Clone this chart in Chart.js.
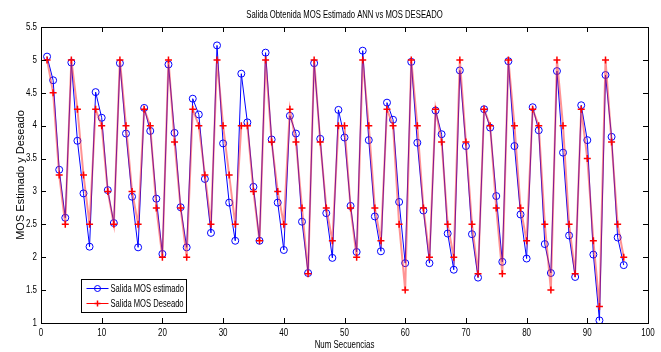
<!DOCTYPE html>
<html>
<head>
<meta charset="utf-8">
<script src="https://cdn.jsdelivr.net/npm/chart.js@4.4.1/dist/chart.umd.min.js"></script>
<style>
html,body{margin:0;padding:0;background:#fff;}
#wrap{width:661px;height:352px;position:relative;}
</style>
</head>
<body>
<div id="wrap"><canvas id="c" width="661" height="352"></canvas></div>
<script>
const chartTitle = "Salida Obtenida MOS Estimado ANN vs MOS DESEADO";
const xAxisTitle = "Num Secuencias";
const yAxisTitle = "MOS Estimado y Deseado";
const seriesNames = ["Salida MOS estimado", "Salida MOS Deseado"];
const xTicks = [0,10,20,30,40,50,60,70,80,90,100];
const xTickLabels = ["0","10","20","30","40","50","60","70","80","90","100"];
const yTicks = [1,1.5,2,2.5,3,3.5,4,4.5,5,5.5];
const yTickLabels = ["1","1.5","2","2.5","3","3.5","4","4.5","5","5.5"];

const secuencias = [1,2,3,4,5,6,7,8,9,10,11,12,13,14,15,16,17,18,19,20,21,22,23,24,25,26,27,28,29,30,31,32,33,34,35,36,37,38,39,40,41,42,43,44,45,46,47,48,49,50,51,52,53,54,55,56,57,58,59,60,61,62,63,64,65,66,67,68,69,70,71,72,73,74,75,76,77,78,79,80,81,82,83,84,85,86,87,88,89,90,91,92,93,94,95,96];

const mosEstimado = [5.05,4.69,3.33,2.60,4.96,3.77,2.97,2.16,4.51,4.12,3.02,2.52,4.95,3.88,2.92,2.15,4.27,3.92,2.89,2.05,4.93,3.89,2.76,2.15,4.41,4.17,3.19,2.37,5.22,3.73,2.83,2.25,4.79,4.05,3.07,2.25,5.11,3.79,2.83,2.11,4.15,3.88,2.54,1.76,4.95,3.80,2.67,1.99,4.24,3.82,2.78,2.08,5.14,3.78,2.62,2.09,4.35,4.09,2.84,1.91,4.97,3.74,2.71,1.91,4.23,3.87,2.36,1.81,4.84,3.69,2.35,1.69,4.25,3.97,2.93,1.93,4.98,3.69,2.65,1.98,4.28,3.93,2.20,1.76,4.83,3.59,2.33,1.70,4.31,3.78,2.04,1.04,4.77,3.83,2.30,1.88];

const mosDeseado = [5.0,4.5,3.25,2.5,5.0,4.25,3.25,2.5,4.25,4.0,3.0,2.5,5.0,4.0,3.0,2.5,4.25,4.0,2.75,2.0,5.0,3.75,2.75,2.0,4.25,4.0,3.25,2.5,5.0,4.0,3.25,2.5,4.0,4.0,3.0,2.25,5.0,3.75,3.0,2.5,4.25,3.75,2.75,1.75,5.0,3.75,2.75,2.25,4.0,4.0,2.75,2.0,5.0,4.0,2.75,2.25,4.25,4.0,2.5,1.5,5.0,4.0,2.75,2.0,4.25,3.75,2.5,2.0,5.0,3.75,2.5,1.75,4.25,4.0,2.75,1.75,5.0,4.0,2.75,2.25,4.25,4.0,2.5,1.5,5.0,4.0,2.5,1.75,4.25,3.5,2.25,1.25,5.0,3.75,2.5,2.0];

const FONT = "'Liberation Sans', Arial, sans-serif";
const BLUE = "#0000ff";
const RED = "#ff0000";

function narrowText(ctx, txt, x, y, align, size, sx) {
  ctx.save();
  ctx.translate(x, y);
  ctx.scale(sx, 1);
  ctx.font = size + "px " + FONT;
  ctx.textAlign = align;
  ctx.textBaseline = 'middle';
  ctx.fillStyle = '#000';
  ctx.fillText(txt, 0, 0);
  ctx.restore();
}

const framePlugin = {
  id: 'frame',
  afterDraw(chart) {
    const ctx = chart.ctx, a = chart.chartArea;
    const xs = chart.scales.x, ys = chart.scales.y;
    ctx.save();
    ctx.strokeStyle = '#000';
    ctx.lineWidth = 1;
    ctx.strokeRect(Math.round(a.left)+0.5, Math.round(a.top)+0.5, Math.round(a.right-a.left), Math.round(a.bottom-a.top));
    ctx.beginPath();
    const tl = 5;
    xTicks.forEach(v => {
      const p = Math.round(xs.getPixelForValue(v)) + 0.5;
      ctx.moveTo(p, a.bottom); ctx.lineTo(p, a.bottom - tl);
      ctx.moveTo(p, a.top); ctx.lineTo(p, a.top + tl);
    });
    yTicks.forEach(v => {
      const p = Math.round(ys.getPixelForValue(v)) + 0.5;
      ctx.moveTo(a.left, p); ctx.lineTo(a.left + tl, p);
      ctx.moveTo(a.right, p); ctx.lineTo(a.right - tl, p);
    });
    ctx.stroke();

    // tick labels
    xTicks.forEach((v, i) => {
      narrowText(ctx, xTickLabels[i], xs.getPixelForValue(v), a.bottom + 10, 'center', 10, 0.8);
    });
    yTicks.forEach((v, i) => {
      narrowText(ctx, yTickLabels[i], a.left - 4, ys.getPixelForValue(v), 'right', 10, 0.8);
    });

    // title
    narrowText(ctx, chartTitle, (a.left + a.right) / 2, a.top - 12, 'center', 10, 0.77);
    // x axis title
    narrowText(ctx, xAxisTitle, (a.left + a.right) / 2, a.bottom + 22, 'center', 10, 0.79);
    // y axis title
    ctx.save();
    ctx.translate(21, (a.top + a.bottom) / 2);
    ctx.rotate(-Math.PI / 2);
    narrowText(ctx, yAxisTitle, 0, 0, 'center', 11, 1.0);
    ctx.restore();

    // legend
    const bx = Math.round(a.left) + 40 + 0.5, by = Math.round(a.bottom) - 44 + 0.5, bw = 105, bh = 33;
    ctx.fillStyle = '#fff';
    ctx.fillRect(bx, by, bw, bh);
    ctx.strokeStyle = '#000';
    ctx.lineWidth = 1;
    ctx.strokeRect(bx, by, bw, bh);
    const rows = [by + 9, by + 24];
    const colors = [BLUE, RED];
    rows.forEach((ry, i) => {
      ctx.strokeStyle = colors[i];
      ctx.lineWidth = 1;
      ctx.beginPath();
      ctx.moveTo(bx + 5, ry); ctx.lineTo(bx + 27, ry);
      ctx.stroke();
      const mx = bx + 16;
      ctx.beginPath();
      if (i === 0) {
        ctx.arc(mx, ry, 3, 0, Math.PI * 2);
      } else {
        ctx.lineWidth = 1.5;
        ctx.moveTo(mx - 3, ry); ctx.lineTo(mx + 3, ry);
        ctx.moveTo(mx, ry - 3); ctx.lineTo(mx, ry + 3);
      }
      ctx.stroke();
      narrowText(ctx, seriesNames[i], bx + 29, ry + 0.5, 'left', 10, 0.76);
    });
    ctx.restore();
  }
};

new Chart(document.getElementById('c'), {
  type: 'line',
  data: {
    datasets: [
      {
        label: seriesNames[0],
        data: mosEstimado.map((v, i) => ({x: secuencias[i], y: v})),
        borderColor: BLUE,
        backgroundColor: 'rgba(0,0,0,0)',
        borderWidth: 1,
        pointStyle: 'circle',
        pointRadius: 3.5,
        pointBorderColor: BLUE,
        pointBackgroundColor: 'rgba(0,0,0,0)',
        pointBorderWidth: 1,
        tension: 0,
        order: 1
      },
      {
        label: seriesNames[1],
        data: mosDeseado.map((v, i) => ({x: secuencias[i], y: v})),
        borderColor: 'rgba(255,40,40,0.5)',
        backgroundColor: 'rgba(0,0,0,0)',
        borderWidth: 2,
        pointStyle: 'cross',
        pointRadius: 3.5,
        pointBorderColor: RED,
        pointBorderWidth: 1.5,
        tension: 0,
        order: 0
      }
    ]
  },
  options: {
    responsive: false,
    animation: false,
    events: [],
    layout: { padding: { left: 0, top: 27, right: 13, bottom: 0 } },
    plugins: { legend: { display: false }, title: { display: false }, tooltip: { enabled: false } },
    scales: {
      x: {
        type: 'linear', min: 0, max: 100,
        afterBuildTicks: s => { s.ticks = xTicks.map(v => ({value: v})); },
        afterFit: s => { s.height = 29; },
        grid: { display: false, drawTicks: false },
        border: { display: false },
        ticks: { display: false }
      },
      y: {
        type: 'linear', min: 1, max: 5.5,
        afterBuildTicks: s => { s.ticks = yTicks.map(v => ({value: v})); },
        afterFit: s => { s.width = 41; },
        grid: { display: false, drawTicks: false },
        border: { display: false },
        ticks: { display: false }
      }
    }
  },
  plugins: [framePlugin]
});
</script>
</body>
</html>
